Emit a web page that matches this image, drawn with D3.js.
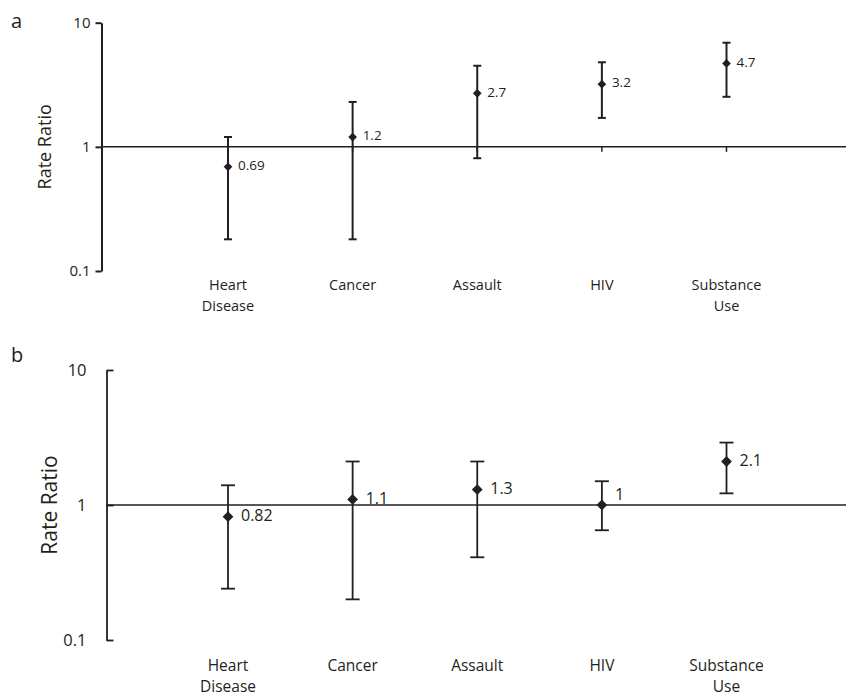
<!DOCTYPE html>
<html><head><meta charset="utf-8">
<script src="https://cdn.jsdelivr.net/npm/d3@7/dist/d3.min.js"></script>
<style>body{margin:0;background:#fff}svg{display:block}text{font-family:"Open Sans",sans-serif;fill:#231f20}</style>
</head><body><svg id="c" width="846" height="698"></svg>
<script>
const categories = [["Heart","Disease"],["Cancer"],["Assault"],["HIV"],["Substance","Use"]];
const tickValues = [0.1, 1, 10];
const tickLabels = ["0.1", "1", "10"];
// Panel a
const aPoint = [0.69, 1.2, 2.7, 3.2, 4.7];
const aLow   = [0.18, 0.18, 0.81, 1.71, 2.53];
const aHigh  = [1.2, 2.3, 4.5, 4.8, 6.9];
// Panel b
const bPoint = [0.82, 1.1, 1.3, 1.0, 2.1];
const bLow   = [0.24, 0.20, 0.41, 0.65, 1.22];
const bHigh  = [1.4, 2.1, 2.1, 1.5, 2.9];

const ink = "#231f20";
const svg = d3.select("#c");

function panel(o){
  const g = svg.append("g");
  const y = d3.scaleLog().domain([0.1,10]).range([o.y0, o.y1]);
  const x = d3.scalePoint().domain(d3.range(categories.length)).range([228, 726.5]);
  const ax = d3.axisLeft(y).tickValues(tickValues).tickFormat((d,i)=>tickLabels[i])
    .tickSizeInner(o.tickIn).tickSizeOuter(0).tickPadding(o.pad);
  const ag = g.append("g").attr("transform",`translate(${o.ax},0)`).call(ax)
    .attr("font-size",o.tickFs).attr("font-family","'Open Sans',sans-serif");
  ag.select(".domain").attr("stroke",ink).attr("stroke-width",o.axw);
  ag.selectAll(".tick line").attr("stroke",ink).attr("stroke-width",o.axw);
  ag.selectAll(".tick text").attr("fill",ink);
  g.append("line").attr("x1",o.ax).attr("x2",846).attr("y1",y(1)).attr("y2",y(1))
    .attr("stroke",ink).attr("stroke-width",1.5);
  if(o.xticks){
    g.selectAll(".xt").data(categories).join("line")
      .attr("x1",(d,i)=>x(i)).attr("x2",(d,i)=>x(i)).attr("y1",y(1)).attr("y2",y(1)+5)
      .attr("stroke",ink).attr("stroke-width",1.5);
  }
  const idx = d3.range(categories.length);
  g.selectAll(".eb").data(idx).join("line")
    .attr("x1",i=>x(i)).attr("x2",i=>x(i)).attr("y1",i=>y(o.low[i])).attr("y2",i=>y(o.high[i]))
    .attr("stroke",ink).attr("stroke-width",o.ebw);
  ["low","high"].forEach(k=>{
    g.selectAll(".cap"+k).data(idx).join("line")
      .attr("x1",i=>x(i)-o.cap).attr("x2",i=>x(i)+o.cap).attr("y1",i=>y(o[k][i])).attr("y2",i=>y(o[k][i]))
      .attr("stroke",ink).attr("stroke-width",o.ebw);
  });
  g.selectAll(".pt").data(idx).join("path")
    .attr("d",d3.symbol(d3.symbolSquare,o.sym))
    .attr("transform",i=>`translate(${x(i)},${y(o.point[i])}) rotate(45)`)
    .attr("fill",ink);
  g.selectAll(".vl").data(idx).join("text")
    .attr("x",i=>x(i)+o.lx).attr("y",i=>y(o.point[i]) - (o.point[i]===1?11:1.5))
    .attr("dy","0.35em").attr("font-size",o.valFs)
    .text(i=>String(o.point[i]));
  categories.forEach((c,i)=>{
    const t = g.append("text").attr("x",x(i)).attr("y",o.catY).attr("text-anchor","middle").attr("font-size",o.catFs);
    c.forEach((line,j)=>t.append("tspan").attr("x",x(i)).attr("dy",j?o.catLh:0).text(line));
  });
  g.append("text").attr("transform",`translate(${o.titleX},${(o.y0+o.y1)/2}) rotate(-90)`)
    .attr("text-anchor","middle").attr("dy","0.35em").attr("font-size",o.titleFs).text("Rate Ratio");
  g.append("text").attr("x",11).attr("y",o.letterY).attr("font-size",20).text(o.letter);
}

panel({letter:"a",letterY:28,y0:271,y1:22.7,ax:101.5,tickIn:6,pad:5,axw:2,tickFs:15,
  point:aPoint,low:aLow,high:aHigh,xticks:true,ebw:2,cap:4,sym:38,lx:10,valFs:13.5,
  catY:290,catLh:21,catFs:14.5,titleX:45,titleFs:18});

panel({letter:"b",letterY:362,y0:640,y1:370,ax:106.5,tickIn:-7,pad:20,axw:1.8,tickFs:16.5,
  point:bPoint,low:bLow,high:bHigh,xticks:false,ebw:1.8,cap:7,sym:58,lx:13,valFs:16,
  catY:671,catLh:21,catFs:15.5,titleX:50,titleFs:21});
</script></body></html>
